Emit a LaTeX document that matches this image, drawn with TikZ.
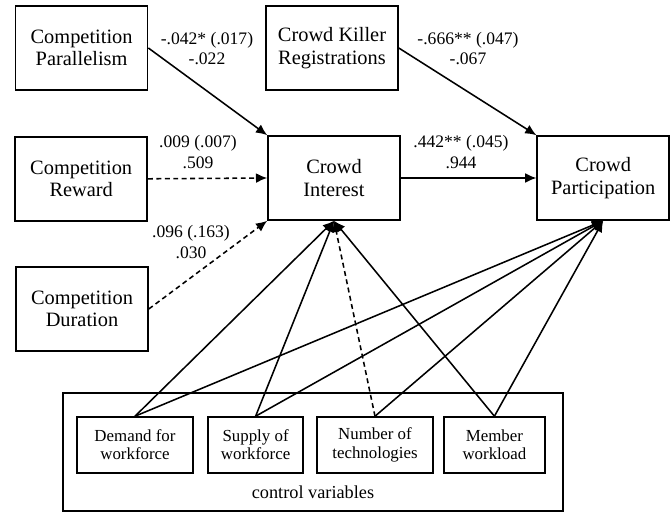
\documentclass[tikz,border=0pt]{standalone}
\usepackage{fontspec}
\setmainfont{Liberation Serif}
\usetikzlibrary{arrows.meta}
\begin{document}
\begin{tikzpicture}[line width=1.1pt,>={Latex[length=8pt,width=7pt]},
  box/.style={draw,align=center,inner sep=2pt,minimum width=3.3cm,
              minimum height=2.1cm,font=\fontsize{14.5}{16}\selectfont},
  cv/.style={draw,align=center,inner sep=2pt,minimum height=1.4cm,
             font=\fontsize{12}{13}\selectfont},
  est/.style={align=center,inner sep=0pt,font=\fontsize{12.5}{14.5}\selectfont},
  dsh/.style={dash pattern=on 3.5pt off 2.5pt}]
  \useasboundingbox (0,0) rectangle (16.8,-12.825);
  \node[draw,minimum width=12.5cm,minimum height=2.95cm] (ctrl) at (7.825,-11.3) {};
  \node[font=\fontsize{13}{14}\selectfont] (ctrllbl) at (7.825,-12.3) {control variables};
  \node[box] (par) at (2.04,-1.2)  {Competition\\ Parallelism};
  \node[box] (kil) at (8.3,-1.2)   {Crowd Killer\\ Registrations};
  \node[box] (rew) at (2.03,-4.47) {Competition\\ Reward};
  \node[box] (int) at (8.35,-4.45) {Crowd\\ Interest};
  \node[box] (prt) at (15.08,-4.45) {Crowd\\ Participation};
  \node[box] (dur) at (2.05,-7.725) {Competition\\ Duration};
  \node[cv,minimum width=2.9cm]   (dem) at (3.375,-11.125) {Demand for\\ workforce};
  \node[cv,minimum width=2.375cm] (sup) at (6.39,-11.125)  {Supply of\\ workforce};
  \node[cv,minimum width=2.9cm]   (num) at (9.375,-11.125) {Number of\\ technologies};
  \node[cv,minimum width=2.525cm] (mem) at (12.36,-11.125) {Member\\ workload};
  \node[est] (e1) at (5.175,-1.22) {-.042* (.017)\\ -.022};
  \node[est] (e2) at (11.7,-1.22)  {-.666** (.047)\\ -.067};
  \node[est] (e3) at (4.95,-3.8)   {.009 (.007)\\ .509};
  \node[est] (e4) at (4.775,-6.05) {.096 (.163)\\ .030};
  \node[est] (e5) at (11.525,-3.8) {.442** (.045)\\ .944};
  \draw[->] (par.east) -- (int.north west);
  \draw[->,dsh] (rew.east) -- (int.west);
  \draw[->,dsh] (dur.east) -- (int.south west);
  \draw[->] (kil.east) -- (prt.north west);
  \draw[->] (int.east) -- (prt.west);
  \draw[->] (dem.north) -- (int.south);
  \draw[->] (sup.north) -- (int.south);
  \draw[->,dsh] (num.north) -- (int.south);
  \draw[->] (mem.north) -- (int.south);
  \draw[->] (dem.north) -- (prt.south);
  \draw[->] (sup.north) -- (prt.south);
  \draw[->] (num.north) -- (prt.south);
  \draw[->] (mem.north) -- (prt.south);
\end{tikzpicture}
\end{document}
